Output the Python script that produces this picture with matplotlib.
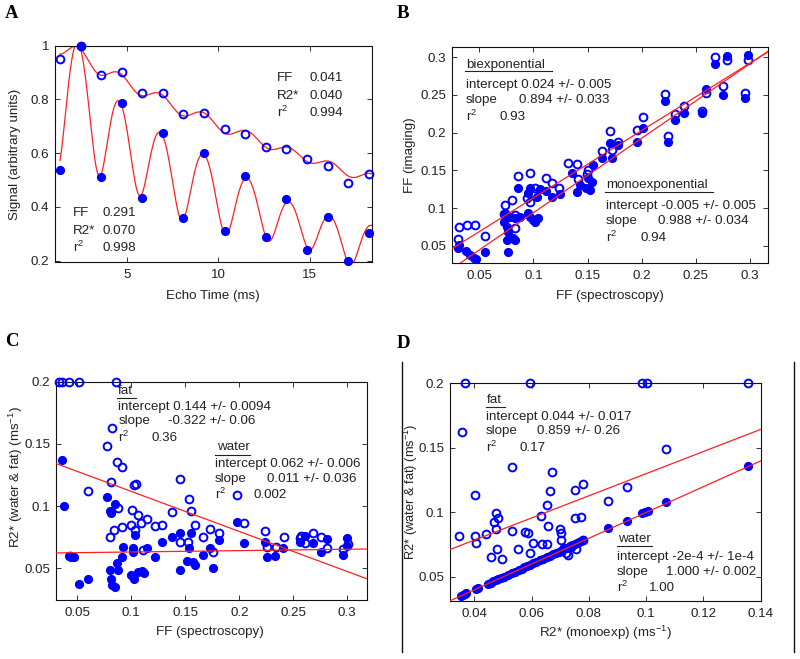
import numpy as np
import matplotlib
matplotlib.use('Agg')
import matplotlib.pyplot as plt
from matplotlib.lines import Line2D

plt.rcParams['font.family'] = ['Liberation Sans', 'DejaVu Sans']
plt.rcParams['mathtext.default'] = 'regular'

W, H = 800, 659
BLUE = '#0000ff'
RED = '#ff2020'
TXT = '#222222'
FS = 9.6

# ---------------- Panel A data ----------------
echo_times = [1.30, 2.43, 3.56, 4.69, 5.82, 6.95, 8.08, 9.21, 10.34, 11.47,
              12.60, 13.73, 14.86, 15.99, 17.12, 18.25]
signal_low_ff = [0.949, 1.000, 0.891, 0.901, 0.823, 0.823, 0.746, 0.749, 0.691,
                 0.672, 0.623, 0.617, 0.580, 0.551, 0.489, 0.523]
signal_high_ff = [0.537, 1.000, 0.512, 0.786, 0.435, 0.674, 0.357, 0.601, 0.310,
                  0.515, 0.289, 0.431, 0.240, 0.364, 0.197, 0.302]
fit_low_ff = [0.041, 0.040, 0.994]     # FF, R2*, r^2
fit_high_ff = [0.291, 0.070, 0.998]
fat_ppm = [-3.80, -3.40, -2.60, -1.94, -0.39, 0.60]
fat_amp = [0.087, 0.693, 0.128, 0.004, 0.039, 0.048]
khz_per_ppm = 0.1277

# ---------------- Panel B data ----------------
b_open_x = [0.0306, 0.0315, 0.0383, 0.0460, 0.0552, 0.0728, 0.0737, 0.0799, 0.0830, 0.0830,
            0.0860, 0.0937, 0.0968, 0.0968, 0.0993, 0.1014, 0.1113, 0.1168, 0.1239, 0.1322,
            0.1400, 0.1409, 0.1498, 0.1507, 0.1630, 0.1707, 0.1722, 0.1784, 0.1954, 0.2015,
            0.2216, 0.2240, 0.2308, 0.2394, 0.2554, 0.2594, 0.2678, 0.2748, 0.2790, 0.2955, 0.2986]
b_open_y = [0.0587, 0.0746, 0.0772, 0.0772, 0.0631, 0.0918, 0.1042, 0.1108, 0.0909, 0.0733,
            0.1431, 0.1130, 0.1470, 0.1086, 0.1197, 0.1263, 0.1396, 0.1329, 0.1272, 0.1600,
            0.1586, 0.1387, 0.1453, 0.1506, 0.1750, 0.2023, 0.1770, 0.1880, 0.2036, 0.2204,
            0.2514, 0.1957, 0.2249, 0.2355, 0.2290, 0.2523, 0.3000, 0.2620, 0.2960, 0.2530, 0.2965]
b_fill_x = [0.0306, 0.0315, 0.0377, 0.0414, 0.0451, 0.0469, 0.0552, 0.0728, 0.0737, 0.0753,
            0.0768, 0.0753, 0.0768, 0.0783, 0.0814, 0.0830, 0.0830, 0.0860, 0.0876, 0.0953,
            0.0953, 0.0968, 0.0968, 0.0999, 0.1014, 0.1045, 0.1030, 0.1060, 0.1113, 0.1168,
            0.1245, 0.1353, 0.1400, 0.1430, 0.1490, 0.1507, 0.1520, 0.1538, 0.1553, 0.1630,
            0.1722, 0.1707, 0.1784, 0.1954, 0.2015, 0.2216, 0.2240, 0.2308, 0.2394, 0.2554,
            0.2594, 0.2678, 0.2748, 0.2790, 0.2955, 0.2986]
b_fill_y = [0.0467, 0.0510, 0.0436, 0.0379, 0.0335, 0.0322, 0.0423, 0.0821, 0.0931, 0.0755,
            0.0688, 0.0578, 0.0423, 0.0887, 0.0600, 0.0578, 0.0865, 0.1263, 0.0887, 0.0931,
            0.1196, 0.0887, 0.1263, 0.0843, 0.0821, 0.0865, 0.1152, 0.1250, 0.1232, 0.1152,
            0.1184, 0.1462, 0.1219, 0.1307, 0.1263, 0.1396, 0.1240, 0.1351, 0.1572, 0.1660,
            0.1660, 0.1868, 0.1838, 0.1882, 0.2059, 0.2425, 0.1882, 0.2169, 0.2257, 0.2257,
            0.2580, 0.2907, 0.2500, 0.3020, 0.2456, 0.3030]
b_fits = {'bi': [0.024, 0.894], 'mono': [-0.005, 0.988]}

# ---------------- Panel C data ----------------
c_open_x = [0.0330, 0.0355, 0.0426, 0.0519, 0.0858, 0.0818, 0.0778, 0.0870, 0.0917, 0.0812,
            0.0602, 0.1028, 0.1043, 0.1450, 0.1534, 0.1549, 0.0880, 0.1010, 0.1059, 0.1142,
            0.1089, 0.1373, 0.0910, 0.0994, 0.0843, 0.0802, 0.1034, 0.1219, 0.1281, 0.1589,
            0.1667, 0.1728, 0.1815, 0.1450, 0.1527, 0.1759, 0.1111, 0.1981, 0.2043, 0.2237,
            0.2259, 0.2339, 0.2413, 0.2561, 0.2608, 0.2685, 0.2756, 0.2808, 0.2963, 0.3009,
            0.0430, 0.2570]
c_open_y = [0.2000, 0.2000, 0.2000, 0.2000, 0.2000, 0.1625, 0.1486, 0.1357, 0.1312, 0.1191,
            0.1124, 0.1170, 0.1178, 0.1215, 0.1057, 0.0964, 0.0988, 0.0969, 0.0929, 0.0894,
            0.0862, 0.0950, 0.0835, 0.0849, 0.0808, 0.0755, 0.0808, 0.0843, 0.0848, 0.0848,
            0.0755, 0.0814, 0.0781, 0.0714, 0.0714, 0.0634, 0.0648, 0.1090, 0.0862, 0.0800,
            0.0674, 0.0674, 0.0749, 0.0741, 0.0707, 0.0781, 0.0749, 0.0661, 0.0653, 0.0696,
            0.0600, 0.0760]
c_fill_x = [0.0361, 0.0377, 0.0778, 0.0849, 0.0802, 0.0812, 0.0420, 0.0469, 0.0440, 0.0512,
            0.0602, 0.0802, 0.0812, 0.0818, 0.0849, 0.0870, 0.0880, 0.0911, 0.0920, 0.0997,
            0.1025, 0.1018, 0.1018, 0.1034, 0.1065, 0.1096, 0.1117, 0.1142, 0.1219, 0.1281,
            0.1373, 0.1450, 0.1450, 0.1512, 0.1537, 0.1549, 0.1589, 0.1574, 0.1667, 0.1759,
            0.1728, 0.1815, 0.1975, 0.2046, 0.2237, 0.2253, 0.2330, 0.2407, 0.2561, 0.2608,
            0.2685, 0.2756, 0.2808, 0.2963, 0.2994, 0.3000]
c_fill_y = [0.1370, 0.1004, 0.1076, 0.1017, 0.0964, 0.0942, 0.0600, 0.0589, 0.0594, 0.0374,
            0.0412, 0.0487, 0.0415, 0.0366, 0.0353, 0.0540, 0.0487, 0.0594, 0.0674, 0.0447,
            0.0412, 0.0661, 0.0634, 0.0768, 0.0474, 0.0482, 0.0460, 0.0661, 0.0589, 0.0714,
            0.0755, 0.0787, 0.0487, 0.0562, 0.0661, 0.0781, 0.0527, 0.0554, 0.0607, 0.0500,
            0.0661, 0.0728, 0.0875, 0.0701, 0.0714, 0.0594, 0.0600, 0.0661, 0.0714, 0.0760,
            0.0707, 0.0634, 0.0733, 0.0607, 0.0741, 0.0680]
c_fits = {'fat': [0.144, -0.322], 'water': [0.062, 0.011]}

# ---------------- Panel D data ----------------
d_open_x = [0.0367, 0.0594, 0.0986, 0.1004, 0.1356, 0.0358, 0.1069, 0.0531, 0.0672, 0.0402,
            0.0778, 0.0751, 0.0664, 0.0932, 0.0868, 0.0655, 0.0633, 0.0751, 0.0771, 0.0658,
            0.0474, 0.0469, 0.0484, 0.0476, 0.0348, 0.0402, 0.0406, 0.0440, 0.0531, 0.0576,
            0.0586, 0.0606, 0.0637, 0.0652, 0.0699, 0.0701, 0.0701, 0.0480, 0.0554, 0.0458,
            0.0498, 0.0594, 0.0719, 0.0728, 0.0755, 0.0778, 0.0714, 0.0737]
d_open_y = [0.2000, 0.2000, 0.2000, 0.2000, 0.2000, 0.1625, 0.1488, 0.1353, 0.1314, 0.1133,
            0.1219, 0.1172, 0.1167, 0.1198, 0.1087, 0.1056, 0.0973, 0.0952, 0.0965, 0.0890,
            0.0991, 0.0926, 0.0958, 0.0870, 0.0815, 0.0815, 0.0758, 0.0831, 0.0857, 0.0844,
            0.0841, 0.0763, 0.0753, 0.0753, 0.0867, 0.0836, 0.0784, 0.0714, 0.0712, 0.0650,
            0.0634, 0.0681, 0.0681, 0.0668, 0.0714, 0.0784, 0.0720, 0.0732]
d_fill_x = [0.1356, 0.1071, 0.0986, 0.0995, 0.1007, 0.0932, 0.0868, 0.0780, 0.0772, 0.0765,
            0.0758, 0.0750, 0.0741, 0.0733, 0.0722, 0.0711, 0.0703, 0.0695, 0.0686, 0.0676,
            0.0664, 0.0652, 0.0641, 0.0628, 0.0614, 0.0605, 0.0596, 0.0585, 0.0574, 0.0566,
            0.0555, 0.0541, 0.0530, 0.0518, 0.0504, 0.0492, 0.0484, 0.0476, 0.0466, 0.0457,
            0.0449, 0.0412, 0.0406, 0.0372, 0.0366, 0.0360, 0.0355]
d_fill_y = [0.1361, 0.1082, 0.0996, 0.1001, 0.1009, 0.0934, 0.0875, 0.0785, 0.0777, 0.0768,
            0.0761, 0.0752, 0.0743, 0.0734, 0.0722, 0.0711, 0.0702, 0.0694, 0.0685, 0.0675,
            0.0663, 0.0651, 0.0640, 0.0627, 0.0613, 0.0603, 0.0594, 0.0583, 0.0572, 0.0563,
            0.0552, 0.0538, 0.0527, 0.0515, 0.0501, 0.0489, 0.0481, 0.0473, 0.0463, 0.0454,
            0.0446, 0.0410, 0.0404, 0.0370, 0.0364, 0.0358, 0.0353]
d_fits = {'fat': [0.044, 0.859], 'water': [-0.0002, 1.000]}

# ---------------- helpers ----------------
fig = plt.figure(figsize=(W / 100, H / 100), dpi=100)


def fx(x):
    return x / W


def fy(y):
    return 1 - y / H


def make_axes(left, top, right, bottom):
    ax = fig.add_axes([fx(left), fy(bottom), (right - left) / W, (bottom - top) / H])
    for s in ax.spines.values():
        s.set_linewidth(0.8)
        s.set_color('#111111')
    ax.tick_params(direction='in', top=True, right=True, length=3.5, width=0.6,
                   labelsize=FS, colors='#111111', labelcolor=TXT)
    ax.tick_params(axis='x', pad=5)
    ax.tick_params(axis='y', pad=4)
    return ax


def ftext(x, y, s, **kw):
    kw.setdefault('fontsize', FS)
    kw.setdefault('color', TXT)
    kw.setdefault('ha', 'left')
    kw.setdefault('va', 'center')
    fig.text(fx(x), fy(y), s, **kw)


def uline(x0, x1, y):
    fig.add_artist(Line2D([fx(x0), fx(x1)], [fy(y), fy(y)], transform=fig.transFigure,
                          color=TXT, lw=0.8))


def plot_pts(ax, x, y, filled):
    if filled:
        ax.plot(x, y, 'o', ms=5.6, mfc=BLUE, mec=BLUE, mew=1.0, ls='none', clip_on=False, zorder=3)
    else:
        ax.plot(x, y, 'o', ms=5.6, mfc='none', mec=BLUE, mew=1.4, ls='none', clip_on=False, zorder=3)


def fit_line(ax, icpt, slope):
    x0, x1 = ax.get_xlim()
    xs = np.array([x0, x1])
    ax.plot(xs, icpt + slope * xs, color=RED, lw=0.9, zorder=4)


def panel_label(x, y, s):
    ftext(x, y, s, fontsize=13.5, fontweight='bold', family='Liberation Serif', color='black')


def signal_model(t, ff, r2):
    t = np.asarray(t, dtype=float)
    fat = np.zeros_like(t, dtype=complex)
    for ppm, a in zip(fat_ppm, fat_amp):
        fat += a * np.exp(2j * np.pi * ppm * khz_per_ppm * t)
    return np.abs((1 - ff) + ff * fat) * np.exp(-r2 * t)


# ---------------- Panel A ----------------
axA = make_axes(55, 45.7, 372, 262)
axA.set_xlim(1.03, 18.43)
axA.set_ylim(0.195, 1.0)
t_fine = np.linspace(echo_times[0], 18.4, 600)
for data, prm in ((signal_low_ff, fit_low_ff), (signal_high_ff, fit_high_ff)):
    m = signal_model(echo_times, prm[0], prm[1])
    s0 = np.dot(m, data) / np.dot(m, m)
    axA.plot(t_fine, s0 * signal_model(t_fine, prm[0], prm[1]), color=RED, lw=0.9, zorder=2)
plot_pts(axA, echo_times, signal_low_ff, False)
plot_pts(axA, echo_times, signal_high_ff, True)
axA.set_xticks([5, 10, 15], ['5', '10', '15'])
axA.set_yticks([0.2, 0.4, 0.6, 0.8, 1.0], ['0.2', '0.4', '0.6', '0.8', '1'])
ftext(276.7, 77.7, 'FF')
ftext(309.5, 77.7, '%.3f' % fit_low_ff[0])
ftext(276.7, 95.7, 'R2*')
ftext(309.5, 95.7, '%.3f' % fit_low_ff[1])
ftext(276.7, 112.5, 'r$^2$')
ftext(309.5, 113.3, '%.3f' % fit_low_ff[2])
ftext(73.3, 213.3, 'FF')
ftext(102.7, 213.3, '%.3f' % fit_high_ff[0])
ftext(73.3, 231, 'R2*')
ftext(102.7, 231, '%.3f' % fit_high_ff[1])
ftext(73.3, 247.5, 'r$^2$')
ftext(102.7, 248.3, '%.3f' % fit_high_ff[2])
ftext(15, 154, 'Signal (arbitrary units)', rotation=90, ha='center')
ftext(213, 296, 'Echo Time (ms)', ha='center')
panel_label(5, 14, 'A')

# ---------------- Panel B ----------------
axB = make_axes(451.7, 46.7, 768.3, 263.3)
axB.set_xlim(0.0245, 0.317)
axB.set_ylim(0.0267, 0.314)
plot_pts(axB, b_open_x, b_open_y, False)
plot_pts(axB, b_fill_x, b_fill_y, True)
fit_line(axB, *b_fits['bi'])
fit_line(axB, *b_fits['mono'])
bt = [0.05, 0.1, 0.15, 0.2, 0.25, 0.3]
axB.set_xticks(bt, ['0.05', '0.1', '0.15', '0.2', '0.25', '0.3'])
axB.set_yticks(bt, ['0.05', '0.1', '0.15', '0.2', '0.25', '0.3'])
ftext(466, 65, 'biexponential')
uline(465, 551.7, 71.3)
ftext(465.7, 85, 'intercept 0.024 +/- 0.005')
ftext(465.7, 100, 'slope')
ftext(519, 100, '0.894 +/- 0.033')
ftext(465.7, 116, 'r$^2$')
ftext(500, 117, '0.93')
ftext(606, 185, 'monoexponential')
uline(605, 713, 191.7)
ftext(605.7, 206, 'intercept -0.005 +/- 0.005')
ftext(605.7, 220.7, 'slope')
ftext(658.3, 220.7, '0.988 +/- 0.034')
ftext(605.7, 237, 'r$^2$')
ftext(640.7, 238, '0.94')
ftext(410, 155, 'FF (imaging)', rotation=90, ha='center')
ftext(610, 296, 'FF (spectroscopy)', ha='center')
panel_label(397, 14, 'B')

# ---------------- Panel C ----------------
axC = make_axes(56, 381.7, 366.7, 600)
axC.set_xlim(0.0303, 0.318)
axC.set_ylim(0.0245, 0.2)
plot_pts(axC, c_open_x, c_open_y, False)
plot_pts(axC, c_fill_x, c_fill_y, True)
fit_line(axC, *c_fits['fat'])
fit_line(axC, *c_fits['water'])
axC.set_xticks(bt, ['0.05', '0.1', '0.15', '0.2', '0.25', '0.3'])
axC.set_yticks([0.05, 0.1, 0.15, 0.2], ['0.05', '0.1', '0.15', '0.2'])
ftext(118.3, 390.7, 'fat')
uline(117.3, 136, 398.3)
ftext(118.3, 407.3, 'intercept 0.144 +/- 0.0094')
ftext(118.3, 421, 'slope')
ftext(168.3, 421, '-0.322 +/- 0.06')
ftext(118.3, 437.5, 'r$^2$')
ftext(151.7, 438.3, '0.36')
ftext(217.3, 447.3, 'water')
uline(215, 250, 455)
ftext(215, 464, 'intercept 0.062 +/- 0.006')
ftext(215, 479, 'slope')
ftext(266.7, 479, '0.011 +/- 0.036')
ftext(215, 494.5, 'r$^2$')
ftext(253.3, 495, '0.002')
ftext(16, 477, 'R2* (water & fat) (ms$^{-1}$)', rotation=90, ha='center')
ftext(210, 632, 'FF (spectroscopy)', ha='center')
panel_label(5, 341, 'C')

# ---------------- Panel D ----------------
axD = make_axes(450, 383.3, 760.7, 601)
axD.set_xlim(0.0315, 0.14)
axD.set_ylim(0.0311, 0.2)
plot_pts(axD, d_open_x, d_open_y, False)
plot_pts(axD, d_fill_x, d_fill_y, True)
fit_line(axD, *d_fits['fat'])
fit_line(axD, *d_fits['water'])
dt = [0.04, 0.06, 0.08, 0.1, 0.12, 0.14]
axD.set_xticks(dt, ['0.04', '0.06', '0.08', '0.1', '0.12', '0.14'])
axD.set_yticks([0.05, 0.1, 0.15, 0.2], ['0.05', '0.1', '0.15', '0.2'])
ftext(486.7, 400, 'fat')
uline(486, 505, 407.3)
ftext(486, 416.7, 'intercept 0.044 +/- 0.017')
ftext(486, 431, 'slope')
ftext(536.7, 431, '0.859 +/- 0.26')
ftext(486, 447.5, 'r$^2$')
ftext(519.3, 448.3, '0.17')
ftext(617.7, 539, 'water')
uline(616.7, 651.7, 545.7)
ftext(616.7, 557.3, 'intercept -2e-4 +/- 1e-4')
ftext(616.7, 571.7, 'slope')
ftext(666, 571.7, '1.000 +/- 0.002')
ftext(616.7, 587.5, 'r$^2$')
ftext(649.3, 588.3, '1.00')
ftext(410.5, 492, 'R2* (water & fat) (ms$^{-1}$)', rotation=90, ha='center', fontsize=9.3)
ftext(605, 633, 'R2* (monoexp) (ms$^{-1}$)', ha='center')
panel_label(397, 343, 'D')

# frame lines around panel D
for xv in (401.7, 794.3):
    fig.add_artist(Line2D([fx(xv), fx(xv)], [fy(361.7), fy(651.7)], transform=fig.transFigure,
                          color='#111111', lw=1.0))

fig.savefig('out.png', dpi=100)
